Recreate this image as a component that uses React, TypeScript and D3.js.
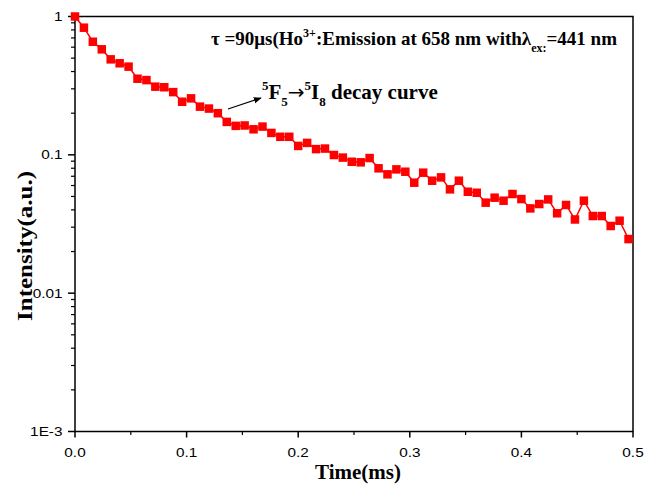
import React from "react";
import * as d3 from "d3";

const times: number[] = Array.from({ length: 63 }, (_, i) => +(i * 0.008).toFixed(3));
const intensity: number[] = [
  1.0, 0.83, 0.657, 0.579, 0.49, 0.459, 0.434, 0.355, 0.347, 0.311,
  0.308, 0.284, 0.242, 0.256, 0.223, 0.216, 0.2, 0.173, 0.162, 0.163,
  0.153, 0.16, 0.144, 0.135, 0.135, 0.116, 0.122, 0.11, 0.111, 0.0997,
  0.0955, 0.0891, 0.0883, 0.0948, 0.0799, 0.0723, 0.0785, 0.0755, 0.0629, 0.0743,
  0.065, 0.0687, 0.0563, 0.065, 0.0541, 0.0532, 0.0451, 0.049, 0.0466, 0.0521,
  0.0479, 0.041, 0.0441, 0.0476, 0.0378, 0.0434, 0.0341, 0.0466, 0.0361, 0.0361,
  0.0306, 0.0334, 0.0246,
];
const xTicks: number[] = [0, 0.1, 0.2, 0.3, 0.4, 0.5];
const xTickLabels: string[] = ["0.0", "0.1", "0.2", "0.3", "0.4", "0.5"];
const yTicks: number[] = [1, 0.1, 0.01, 0.001];
const yTickLabels: string[] = ["1", "0.1", "0.01", "1E-3"];

const W = 658, H = 486;
const left = 75, right = 633, top = 16.5, bottom = 431.5;

export default function App() {
  const x = d3.scaleLinear().domain([0, 0.5]).range([left, right]);
  const y = d3.scaleLog().domain([0.001, 1]).range([bottom, top]);
  const pts = times.map((t, i) => [t, intensity[i]] as [number, number]);
  const line = d3.line<[number, number]>().x(d => x(d[0])).y(d => y(d[1]));

  const xMinor = d3.range(0.05, 0.5, 0.1);
  const yMinor: number[] = [];
  for (const dec of [0.001, 0.01, 0.1]) for (let k = 2; k <= 9; k++) yMinor.push(dec * k);

  const serif = "'Liberation Serif', 'Times New Roman', serif";
  const sans = "'Liberation Sans', Arial, sans-serif";
  const ms = 8.5;
  const sx = 1.18;

  return (
    <svg width={W} height={H} style={{ position: "absolute", left: 0, top: 0, background: "#fff" }}>
      <defs>
        <marker id="ah" viewBox="0 0 10 10" refX="9" refY="5" markerWidth="8" markerHeight="8" orient="auto" markerUnits="userSpaceOnUse">
          <path d="M0,1 L10,5 L0,9 z" fill="#000" />
        </marker>
      </defs>
      <rect x={left} y={top} width={right - left} height={bottom - top} fill="none" stroke="#000" strokeWidth={1.5} />
      {xTicks.map((t, i) => (
        <g key={"xt" + i}>
          <line x1={x(t)} x2={x(t)} y1={bottom} y2={bottom + 6} stroke="#000" strokeWidth={1.5} />
          <text transform={`translate(${x(t)},457) scale(${sx},1)`} textAnchor="middle" fontFamily={sans} fontSize={13}>{xTickLabels[i]}</text>
        </g>
      ))}
      {xMinor.map((t, i) => (
        <line key={"xm" + i} x1={x(t)} x2={x(t)} y1={bottom} y2={bottom + 3.5} stroke="#000" strokeWidth={1.2} />
      ))}
      {yTicks.map((t, i) => (
        <g key={"yt" + i}>
          <line x1={left - 7} x2={left} y1={y(t)} y2={y(t)} stroke="#000" strokeWidth={1.5} />
          <text transform={`translate(62.5,${y(t) + 4.5}) scale(${sx},1)`} textAnchor="end" fontFamily={sans} fontSize={13}>{yTickLabels[i]}</text>
        </g>
      ))}
      {yMinor.map((t, i) => (
        <line key={"ym" + i} x1={left - 4} x2={left} y1={y(t)} y2={y(t)} stroke="#000" strokeWidth={1.2} />
      ))}
      <path d={line(pts) || ""} fill="none" stroke="#ff0000" strokeWidth={1.5} />
      {pts.map((p, i) => (
        <rect key={"p" + i} x={x(p[0]) - ms / 2} y={y(p[1]) - ms / 2} width={ms} height={ms} fill="#ff0000" />
      ))}
      <text x={358} y={479} textAnchor="middle" fontFamily={serif} fontWeight="bold" fontSize={21}>Time(ms)</text>
      <text transform={`translate(32,246) rotate(-90)`} textAnchor="middle" fontFamily={serif} fontWeight="bold" fontSize={22} textLength={150} lengthAdjust="spacingAndGlyphs">Intensity(a.u.)</text>
      <text x={211} y={45} fontFamily={serif} fontWeight="bold" fontSize={19}>
        <tspan>τ =90μs(Ho</tspan>
        <tspan fontSize={12} dy={-8}>3+</tspan>
        <tspan dy={8}>:Emission at 658 nm withλ</tspan>
        <tspan fontSize={12} dy={7}>ex:</tspan>
        <tspan dy={-7}>=441 nm</tspan>
      </text>
      <line x1={228} y1={109} x2={261} y2={98} stroke="#000" strokeWidth={1.2} markerEnd="url(#ah)" />
      <text x={262} y={99} fontFamily={serif} fontWeight="bold" fontSize={21}>
        <tspan fontSize={13} dy={-9}>5</tspan>
        <tspan dy={9}>F</tspan>
        <tspan fontSize={13} dy={7}>5</tspan>
        <tspan dy={-7} fontFamily="'DejaVu Sans', sans-serif" fontWeight="normal" fontSize={20}>→</tspan>
        <tspan fontSize={13} dy={-9}>5</tspan>
        <tspan dy={9}>I</tspan>
        <tspan fontSize={13} dy={7}>8</tspan>
        <tspan dy={-7}> decay curve</tspan>
      </text>
    </svg>
  );
}
